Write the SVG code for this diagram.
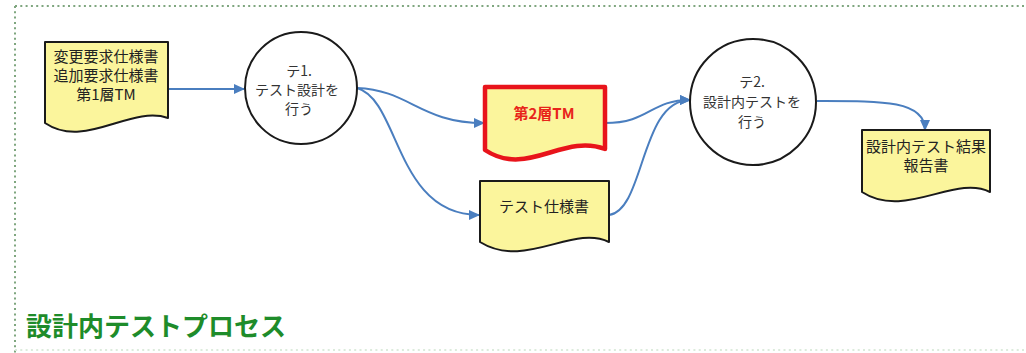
<svg xmlns="http://www.w3.org/2000/svg" width="1026" height="353" viewBox="0 0 1026 353">
<style>
.doc{fill:#fbf59c;stroke:#1a1a1a;stroke-width:2;stroke-linejoin:round}
.docred{fill:#fbf59c;stroke:#e8141b;stroke-width:4.5;stroke-linejoin:round}
.proc{fill:#ffffff;stroke:#1a1a1a;stroke-width:2}
.t{font-family:"Noto Sans CJK JP","Noto Sans",sans-serif;font-size:15px;fill:#222;text-anchor:middle}
.tc{font-family:"Noto Sans CJK JP","Noto Sans",sans-serif;font-size:14px;fill:#333;text-anchor:middle}
.conn{fill:none;stroke:#4a7ebf;stroke-width:2}
.border{fill:none;stroke:#7fa67f;stroke-width:2;stroke-dasharray:2 3.3}
</style>
<defs>
<marker id="arr" markerWidth="12" markerHeight="10" refX="10" refY="5" orient="auto" markerUnits="userSpaceOnUse">
<path d="M0,0 L11,5 L0,10 Z" fill="#4a7ebf"/>
</marker>
</defs>
<rect width="1026" height="353" fill="#ffffff"/>
<g id="frame">
<path class="border" d="M15,6 H1026"/>
<path class="border" d="M15,6 V353"/>
<path d="M15,350 H1026" fill="none" stroke="#dcebdc" stroke-width="2" stroke-dasharray="2 3.3"/>
</g>
<g id="connectors">
<path class="conn" d="M168,89 L244,89" marker-end="url(#arr)"/>
<path class="conn" d="M357,88 C410,90 420,123 484,123" marker-end="url(#arr)"/>
<path class="conn" d="M357,88 C400,100 395,215 479,215" marker-end="url(#arr)"/>
<path class="conn" d="M605,123 C650,123 650,100 690,100" marker-end="url(#arr)"/>
<path class="conn" d="M609,215 C645,210 640,100 690,100" marker-end="url(#arr)"/>
<path class="conn" d="M817,101 C880,101 925,100 925,130" marker-end="url(#arr)"/>
</g>
<g id="doc1">
<path class="doc" d="M45,42 H168 V118 C130,105 85,150 45,123 Z"/>
<text class="t" x="106" y="62">変更要求仕様書</text>
<text class="t" x="106" y="81">追加要求仕様書</text>
<text class="t" x="106" y="100">第1層TM</text>
</g>
<g id="proc1">
<circle class="proc" cx="301" cy="88" r="56"/>
<text class="tc" x="299" y="76">テ1.</text>
<text class="tc" x="297" y="95">テスト設計を</text>
<text class="tc" x="299" y="114">行う</text>
</g>
<g id="doc2">
<path class="docred" d="M485,87 H605 V149 C563,133 527,178 485,150 Z"/>
<text class="t" x="544" y="119" style="fill:#e8251b;font-weight:bold">第2層TM</text>
</g>
<g id="doc3">
<path class="doc" d="M480,181 H609 V242 C573,224 525,270 480,242 Z"/>
<text class="t" x="544" y="212">テスト仕様書</text>
</g>
<g id="proc2">
<circle class="proc" cx="753" cy="102" r="63"/>
<text class="tc" x="752" y="87">テ2.</text>
<text class="tc" x="752" y="107">設計内テストを</text>
<text class="tc" x="752" y="127">行う</text>
</g>
<g id="doc4">
<path class="doc" d="M862,130 H990 V192 C955,174 905,220 862,192 Z"/>
<text class="t" x="926" y="152">設計内テスト結果</text>
<text class="t" x="926" y="171">報告書</text>
</g>
<g id="title">
<text x="26" y="336" style="font-family:'Noto Sans CJK JP','Noto Sans',sans-serif;font-size:26px;font-weight:bold;fill:#1e8c2a">設計内テストプロセス</text>
</g>
</svg>
